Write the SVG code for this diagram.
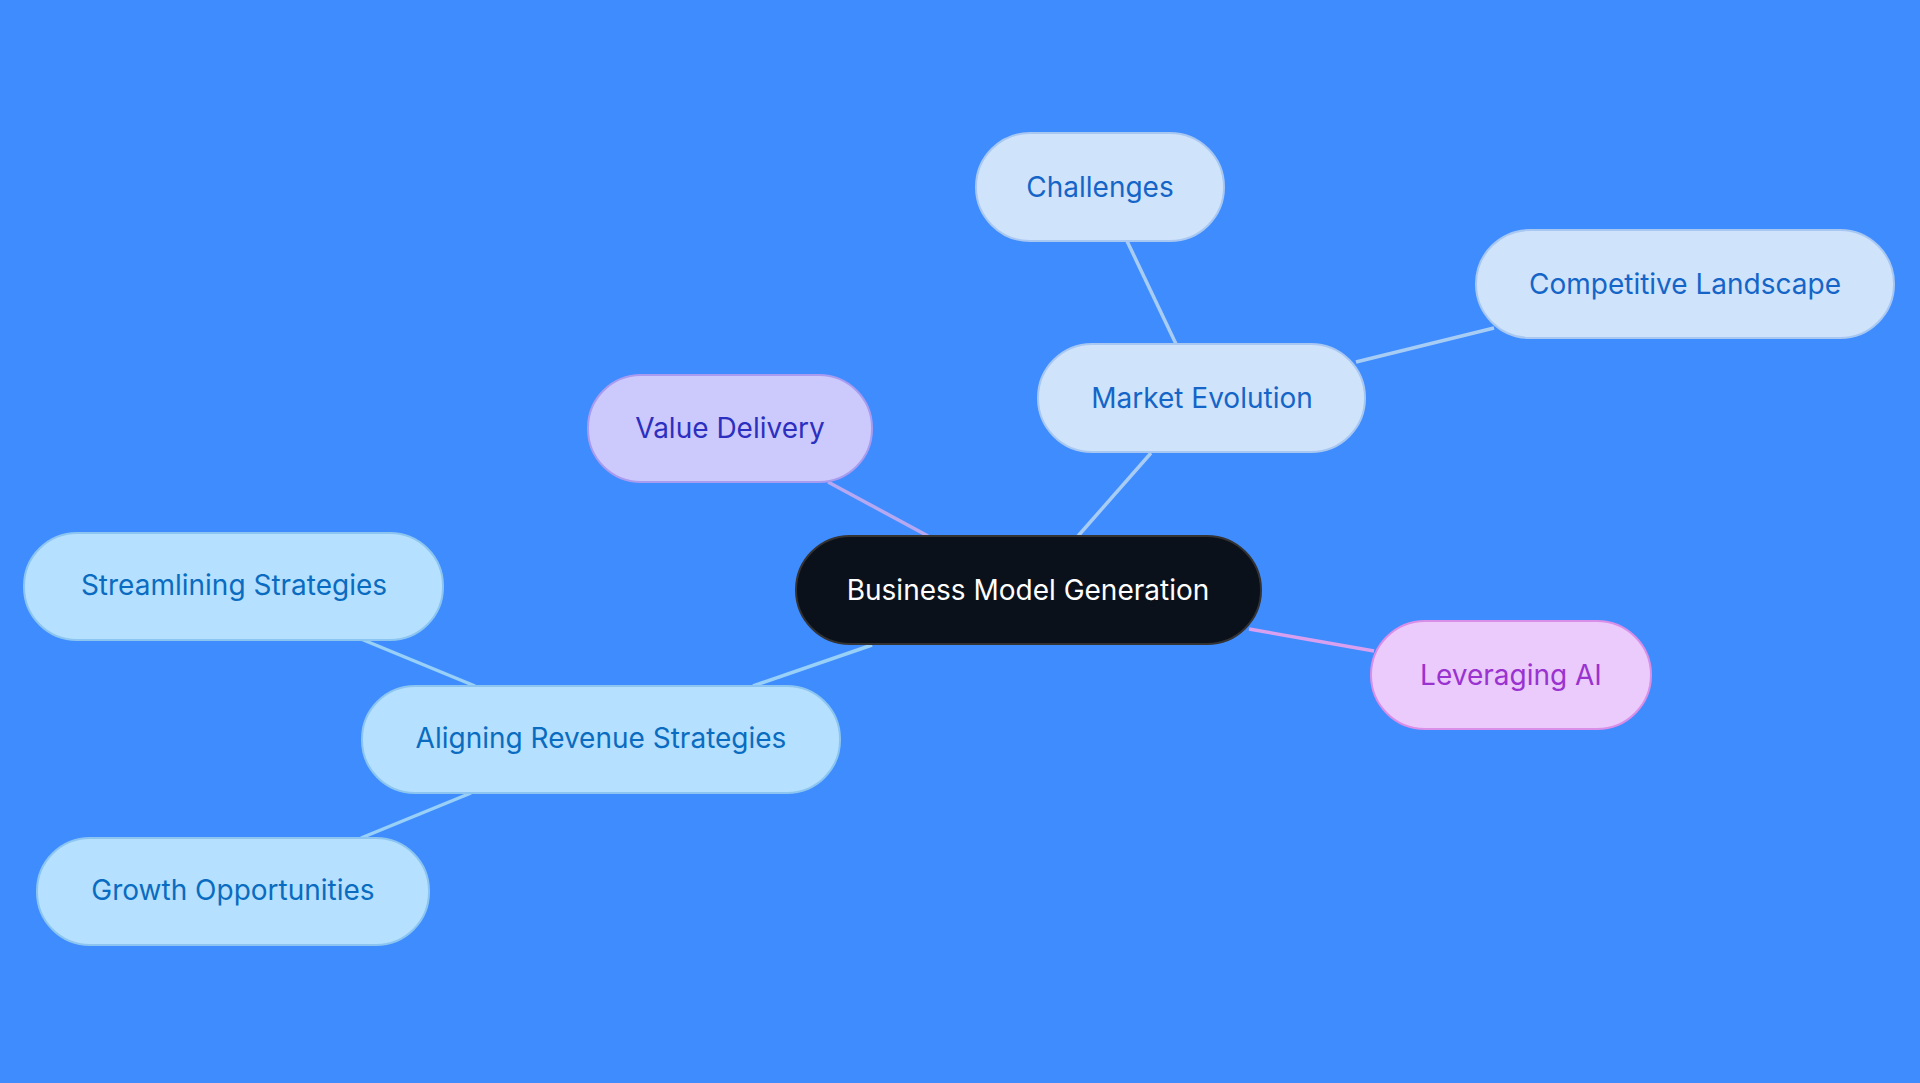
<svg xmlns="http://www.w3.org/2000/svg" width="1920" height="1083" viewBox="0 0 1920 1083">
<style>
text{font-family:Inter,"Noto Sans",sans-serif;font-size:28px;text-anchor:middle;dominant-baseline:central}
.e{stroke-width:3.5;fill:none}
.b rect{fill:#cfe3fb;stroke:#a8c8f2;stroke-width:2}.b text{fill:#1565c8}
.c rect{fill:#b5e0ff;stroke:#8cc6f0;stroke-width:2}.c text{fill:#0a6cc0}
</style>
<rect width="1920" height="1083" fill="#3f8cff"/>
<g id="connectors">
<line class="e" x1="928" y1="536" x2="828" y2="482" stroke="#b7a8f2"/>
<line class="e" x1="1078" y1="536" x2="1151" y2="453" stroke="#a8cdf5"/>
<line class="e" x1="1176" y1="344" x2="1127" y2="241" stroke="#a8cdf5"/>
<line class="e" x1="1356" y1="362" x2="1494" y2="328" stroke="#a8cdf5"/>
<line class="e" x1="1249" y1="629" x2="1374" y2="651" stroke="#d9a0f0"/>
<line class="e" x1="872" y1="645" x2="753" y2="686" stroke="#98d0f8"/>
<line class="e" x1="475" y1="686" x2="361" y2="639" stroke="#98d0f8"/>
<line class="e" x1="471" y1="793" x2="361" y2="838" stroke="#98d0f8"/>
</g>
<g id="center"><rect x="796" y="536" width="465" height="108" rx="54" fill="#0b111b" stroke="#333" stroke-width="2"/><text x="1028" y="590" fill="#fff">Business Model Generation</text></g>
<g id="challenges" class="b"><rect x="976" y="133" width="248" height="108" rx="54"/><text x="1100" y="187">Challenges</text></g>
<g id="competitive" class="b"><rect x="1476" y="230" width="418" height="108" rx="54"/><text x="1685" y="284">Competitive Landscape</text></g>
<g id="market" class="b"><rect x="1038" y="344" width="327" height="108" rx="54"/><text x="1202" y="398">Market Evolution</text></g>
<g id="value"><rect x="588" y="375" width="284" height="107" rx="53" fill="#cccafc" stroke="#a99cf0" stroke-width="2"/><text x="730" y="428" fill="#2d2fc0">Value Delivery</text></g>
<g id="streamlining" class="c"><rect x="24" y="533" width="419" height="107" rx="53"/><text x="234" y="585">Streamlining Strategies</text></g>
<g id="aligning" class="c"><rect x="362" y="686" width="478" height="107" rx="53"/><text x="601" y="738">Aligning Revenue Strategies</text></g>
<g id="growth" class="c"><rect x="37" y="838" width="392" height="107" rx="53"/><text x="233" y="890">Growth Opportunities</text></g>
<g id="ai"><rect x="1371" y="621" width="280" height="108" rx="54" fill="#ebcafc" stroke="#d98ee8" stroke-width="2"/><text x="1511" y="675" fill="#9a32d0">Leveraging AI</text></g>
</svg>
